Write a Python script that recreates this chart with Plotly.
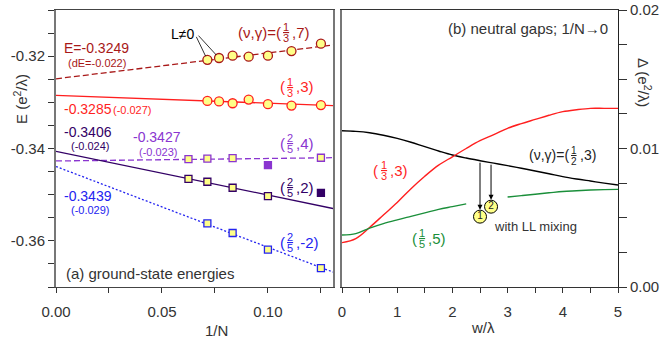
import numpy as np
import plotly.graph_objects as go

# ---------------- panel (a): ground-state energies vs 1/N ----------------
N_13_7 = [14, 13, 12, 11, 10, 9, 8]
E_13_7 = [-0.3208, -0.3204, -0.3199, -0.3201, -0.3199, -0.3189, -0.3173]
N_13_3 = [14, 13, 12, 11, 10, 9, 8]
E_13_3 = [-0.3297, -0.3298, -0.3302, -0.3294, -0.3304, -0.3307, -0.3306]
N_25_4 = [16, 14, 12, 8]
E_25_4 = [-0.3423, -0.3422, -0.3421, -0.3420]
N_25_4_alt = [10]
E_25_4_alt = [-0.3436]
N_25_2 = [16, 14, 12, 10]
E_25_2 = [-0.3466, -0.3472, -0.3485, -0.3503]
N_25_2_alt = [8]
E_25_2_alt = [-0.3496]
N_25_m2 = [14, 12, 10, 8]
E_25_m2 = [-0.3562, -0.3583, -0.3619, -0.3659]
# linear extrapolations (intercept, slope)
fit_13_7 = (-0.3249, 0.056)
fit_13_3 = (-0.3285, -0.0168)
fit_25_4 = (-0.3427, 0.0054)
fit_25_2 = (-0.3406, -0.0949)
fit_25_m2 = (-0.3439, -0.175)

xa_tickvals = [0, 0.025, 0.05, 0.075, 0.10, 0.125]
xa_ticktext = ["0.00", "", "0.05", "", "0.10", ""]
ya_tickvals = [-0.37, -0.365, -0.36, -0.355, -0.35, -0.345, -0.34, -0.335,
               -0.33, -0.325, -0.32, -0.315, -0.31]
ya_ticktext = ["", "", "-0.36", "", "", "", "-0.34", "", "", "", "-0.32", "", ""]

# ---------------- panel (b): neutral gaps vs w/lambda ----------------
w = [0, 0.25, 0.5, 0.75, 1, 1.25, 1.5, 1.75, 2, 2.25, 2.5, 2.75, 3,
     3.25, 3.5, 3.75, 4, 4.25, 4.5, 4.75, 5]
gap_12_3 = [0.01128, 0.01124, 0.01114, 0.01096, 0.01073, 0.01045, 0.01013,
            0.00982, 0.00953, 0.00931, 0.00912, 0.00894, 0.00876, 0.00857,
            0.00838, 0.00818, 0.00797, 0.00780, 0.00765, 0.00750, 0.00736]
gap_13_3 = [0.0032, 0.0035, 0.0043, 0.0052, 0.0061, 0.0071, 0.0080, 0.0088,
            0.0094, 0.0100, 0.01056, 0.0110, 0.01146, 0.0118, 0.0121, 0.0124,
            0.01266, 0.0128, 0.0129, 0.0129, 0.0129]
gap_15_5 = [0.00375, 0.00385, 0.00425, 0.00458, 0.00485, 0.0051, 0.00535,
            0.0056, 0.0058, 0.0060, None, None, 0.0065, 0.0066, 0.0067,
            0.0068, 0.0069, 0.00695, 0.0070, 0.00703, 0.00705]
mix_w = [2.5, 2.7]
mix_gap = [0.00508, 0.0058]
mix_lbl = ["1", "2"]

xb_tickvals = [0, 0.5, 1, 1.5, 2, 2.5, 3, 3.5, 4, 4.5, 5]
xb_ticktext = ["0", "", "1", "", "2", "", "3", "", "4", "", "5"]
yb_tickvals = [0, 0.0025, 0.005, 0.0075, 0.01, 0.0125, 0.015, 0.0175, 0.02]
yb_ticktext = ["0.00", "", "", "", "0.01", "", "", "", "0.02"]

# ---------------- styles ----------------
C_DR = "#a81818"
C_R = "#ff1f1f"
C_P = "#8a35d0"
C_DP = "#330066"
C_B = "#2323f0"
C_G = "#1a8f3a"
YEL = "#ffff88"
FONT = "Liberation Sans"

W, H = 663, 344
ML, MR, MT, MB = 56, 45, 10, 57
PW, PH = W - ML - MR, H - MT - MB


def px(x):
    return (x - ML) / PW


def py(y):
    return (MT + PH - y) / PH


fig = go.Figure()
XMAX = 0.1307
xl = np.array([0.0, XMAX])


def add_fit(fit, color, dash, width=1.3):
    fig.add_trace(go.Scatter(x=xl, y=fit[0] + fit[1] * xl, mode="lines",
                             line=dict(color=color, dash=dash, width=width),
                             xaxis="x", yaxis="y"))


def add_pts(N, E, color, symbol, size, fill=YEL):
    fig.add_trace(go.Scatter(x=1 / np.array(N), y=E, mode="markers",
                             marker=dict(symbol=symbol, size=size, color=fill,
                                         line=dict(color=color, width=1.3)),
                             xaxis="x", yaxis="y"))


add_fit(fit_13_7, C_DR, "6px,3px")
add_fit(fit_13_3, C_R, "solid")
add_fit(fit_25_4, C_P, "6px,3px")
add_fit(fit_25_2, C_DP, "solid")
add_fit(fit_25_m2, C_B, "2px,2px")
add_pts(N_13_7, E_13_7, C_DR, "circle", 9)
add_pts(N_13_3, E_13_3, C_R, "circle", 9)
add_pts(N_25_4, E_25_4, C_P, "square", 7)
add_pts(N_25_4_alt, E_25_4_alt, C_P, "square", 7, fill=C_P)
add_pts(N_25_2, E_25_2, C_DP, "square", 7)
add_pts(N_25_2_alt, E_25_2_alt, C_DP, "square", 7, fill=C_DP)
add_pts(N_25_m2, E_25_m2, C_B, "square", 7)

for g, c in [(gap_12_3, "black"), (gap_13_3, C_R), (gap_15_5, C_G)]:
    fig.add_trace(go.Scatter(x=w, y=g, mode="lines",
                             line=dict(color=c, width=1.4, shape="spline"),
                             connectgaps=False, xaxis="x2", yaxis="y2"))
fig.add_trace(go.Scatter(x=mix_w, y=mix_gap, mode="markers+text", text=mix_lbl,
                         textposition="middle center",
                         textfont=dict(family=FONT, size=10, color="#222"),
                         marker=dict(size=13, color=YEL, line=dict(color="black", width=1)),
                         xaxis="x2", yaxis="y2"))

ann = []


def txt(s, x, y, color, size, xanchor="left", angle=0):
    ann.append(dict(text=s, x=px(x), y=py(y), xref="paper", yref="paper",
                    xanchor=xanchor, yanchor="middle", showarrow=False,
                    textangle=angle, font=dict(family=FONT, size=size, color=color)))


def frac(pre, num, den, post, xc, yc, color, size=15, fsize=11):
    if pre:
        txt(pre, xc - 3.5, yc, color, size, "right")
    txt("<u>" + num + "</u>", xc, yc - 5, color, fsize, "center")
    txt(den, xc, yc + 6, color, fsize, "center")
    txt(post, xc + 3.5, yc, color, size, "left")


# panel (a) labels
txt("L≠0", 182, 34, "black", 14, "center")
frac("(ν,γ)=(", "1", "3", ",7)", 286, 32, C_DR)
txt("E=-0.3249", 62, 48, C_DR, 14)
txt("(dE=-0.022)", 66, 63, C_DR, 11)
frac("(", "1", "3", ",3)", 290, 87, C_R)
txt("-0.3285", 62, 109, C_R, 14)
txt("(-0.027)", 111, 110, C_R, 11)
txt("-0.3406", 62, 132, C_DP, 14)
txt("(-0.024)", 69, 146, C_DP, 11)
txt("-0.3427", 131, 137, C_P, 14)
txt("(-0.023)", 137, 152, C_P, 11)
frac("(", "2", "5", ",4)", 290, 143, C_P)
frac("(", "2", "5", ",2)", 290, 187, C_DP)
txt("-0.3439", 62, 196, C_B, 14)
txt("(-0.029)", 69, 210, C_B, 11)
frac("(", "2", "5", ",-2)", 290, 242, C_B)
txt("(a) ground-state energies", 64, 273, "#333", 15)
txt("E (e<sup>2</sup>/λ)", 20, 99, "#333", 15, "center", -90)
txt("1/N", 216, 330, "#333", 15, "center")

# panel (b) labels
txt("(b) neutral gaps; 1/N→0", 610, 28, "#333", 15, "right")
frac("(ν,γ)=(", "1", "2", ",3)", 574, 155, "#222", 14, 10)
frac("(", "1", "3", ",3)", 384, 170, C_R, 15)
frac("(", "1", "5", ",5)", 422, 238, C_G, 15)
txt("with LL mixing", 492, 226, "#333", 13)
txt("Δ (e<sup>2</sup>/λ)", 645, 82, "#333", 15, "center", 90)
txt("w/λ", 483, 328, "#333", 15, "center")

# pointers for L != 0
for i, (ax, ay) in enumerate([(-12, -25), (-22, -24)]):
    ann.append(dict(x=1 / N_13_7[i], y=E_13_7[i], xref="x", yref="y", text=" ",
                    showarrow=True, arrowhead=0, arrowwidth=0.8, arrowcolor="black",
                    ax=ax, ay=ay, standoff=4, font=dict(size=1)))
# arrows from (1/2,3) curve to LL-mixing points
for wi, gi in zip(mix_w, mix_gap):
    ann.append(dict(x=wi, y=gi, xref="x2", yref="y2", axref="x2", ayref="y2",
                    ax=wi, ay=float(np.interp(wi, w, gap_12_3)), text=" ",
                    showarrow=True, arrowhead=2, arrowsize=1, arrowwidth=1,
                    arrowcolor="black", standoff=7, font=dict(size=1)))

tickfont = dict(family=FONT, size=15, color="#333")
common = dict(showgrid=False, zeroline=False, automargin=False, tickfont=tickfont,
              tickcolor="#333")
fig.update_layout(
    width=W, height=H, margin=dict(l=ML, r=MR, t=MT, b=MB, pad=0, autoexpand=False),
    paper_bgcolor="white", plot_bgcolor="white", showlegend=False,
    hovermode=False, font=dict(family=FONT),
    annotations=ann,
    xaxis=dict(domain=[0, px(333)], range=[0, XMAX], tickvals=xa_tickvals,
               ticktext=xa_ticktext, ticks="outside", ticklen=5,
               ticklabelstandoff=6,
               showline=True, linecolor="#444", linewidth=1, mirror=True,
               anchor="y", **common),
    yaxis=dict(domain=[0, 1], range=[-0.37, -0.31], tickvals=ya_tickvals,
               ticktext=ya_ticktext, ticks="outside", ticklen=6,
               showline=True, linecolor="#777", linewidth=2, mirror=True,
               anchor="x", **common),
    xaxis2=dict(domain=[px(342), 1], range=[0, 5], tickvals=xb_tickvals,
                ticktext=xb_ticktext, ticks="outside", ticklen=5,
                ticklabelstandoff=6,
                showline=True, linecolor="#333", linewidth=1, mirror=True,
                anchor="y2", **common),
    yaxis2=dict(domain=[0, 1], range=[0, 0.02], tickvals=yb_tickvals,
                ticktext=yb_ticktext, ticks="outside", ticklen=8,
                side="right", showline=True, linecolor="#222", linewidth=1,
                anchor="x2", **common),
    yaxis3=dict(domain=[0, 1], range=[0, 0.02], overlaying="y2", side="left",
                anchor="x2", showline=True, linecolor="#777", linewidth=2,
                showticklabels=False, ticks="", showgrid=False, zeroline=False,
                automargin=False),
)
fig.add_trace(go.Scatter(x=[None], y=[None], xaxis="x2", yaxis="y3"))

fig.write_html("out.html", config={"displayModeBar": False},
               post_script="document.body.style.margin='0';")
